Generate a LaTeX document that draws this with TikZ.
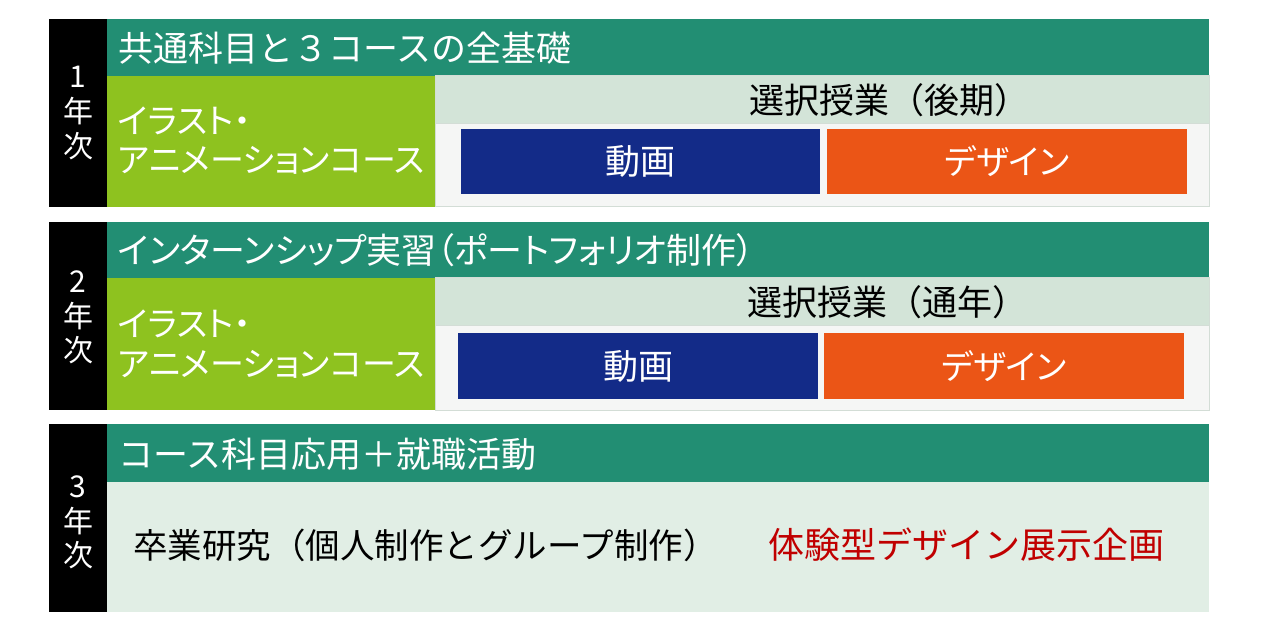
\documentclass[tikz,border=0pt]{standalone}
\usepackage{fontspec}
\setmainfont{Noto Sans CJK JP}
\newfontfamily\pfont{Noto Sans CJK JP}[RawFeature=+palt]
\definecolor{hdr}{HTML}{228E73}
\definecolor{lime}{HTML}{8EC21F}
\definecolor{selbg}{HTML}{D3E4D8}
\definecolor{panel}{HTML}{F5F6F5}
\definecolor{navy}{HTML}{132B88}
\definecolor{orng}{HTML}{EB5516}
\definecolor{body3}{HTML}{E1EEE5}
\definecolor{redtxt}{HTML}{C00000}
\definecolor{edge}{HTML}{D3DDD6}
\newcommand{\mkcell}[6]{\node[cell, fill=#6, minimum width=#4pt, minimum height=#5pt] (#1) at (#2,#3) {};}
\begin{document}
\begin{tikzpicture}[x=1pt,y=-1pt,
  cell/.style={draw=none, inner sep=0pt, outer sep=0pt, anchor=north west},
  txt/.style={inner sep=0pt, font=\fontsize{35}{40}\selectfont},
  wtxt/.style={txt, text=white},
  ktxt/.style={inner sep=0pt, text=white, font=\pfont\fontsize{34}{40}\selectfont},
  ytxt/.style={inner sep=0pt, text=white, font=\fontsize{30}{36}\selectfont},
  frame/.style={draw=edge, line width=1pt}]
\useasboundingbox (0,0) rectangle (1264,636);
% ---------- Row 1 ----------
\mkcell{b1}{49}{19}{58}{188}{black}
\mkcell{h1}{107}{19}{1102}{57}{hdr}
\mkcell{l1}{107}{76}{328}{131}{lime}
\mkcell{s1}{435}{76}{774}{48}{selbg}
\mkcell{p1}{435}{124}{774}{83}{panel}
\draw[frame] (s1.north west) rectangle (p1.south east);
\draw[frame] (p1.north west) -- (p1.north east);
\mkcell{v1}{461}{129}{359}{65}{navy}
\mkcell{d1}{827}{129}{360}{65}{orng}
\node[ytxt] (y1a) at (78,77) {1};
\node[ytxt] (y1b) at (78,111) {年};
\node[ytxt] (y1c) at (78,146) {次};
\node[wtxt, anchor=west] (t1) at (118,48) {共通科目と３コースの全基礎};
\node[ktxt, anchor=west] (c1a) at (118,121) {イラスト・};
\node[ktxt, anchor=west] (c1b) at (118,160) {アニメーションコース};
\node[txt] (e1) at (889,100) {選択授業（後期）};
\node[wtxt] (m1) at (v1.center) {動画};
\node[ktxt] (g1) at (d1.center) {デザイン};
% ---------- Row 2 ----------
\mkcell{b2}{49}{222}{58}{188}{black}
\mkcell{h2}{107}{222}{1102}{56}{hdr}
\mkcell{l2}{107}{278}{328}{132}{lime}
\mkcell{s2}{435}{278}{774}{48}{selbg}
\mkcell{p2}{435}{326}{774}{84}{panel}
\draw[frame] (s2.north west) rectangle (p2.south east);
\draw[frame] (p2.north west) -- (p2.north east);
\mkcell{v2}{458}{333}{360}{66}{navy}
\mkcell{d2}{824}{333}{360}{66}{orng}
\node[ytxt] (y2a) at (78,282) {2};
\node[ytxt] (y2b) at (78,316) {年};
\node[ytxt] (y2c) at (78,350) {次};
\node[ktxt, anchor=west, font=\pfont\fontsize{35}{40}\selectfont] (t2) at (118,250) {インターンシップ実習（ポートフォリオ制作）};
\node[ktxt, anchor=west] (c2a) at (118,324) {イラスト・};
\node[ktxt, anchor=west] (c2b) at (118,364) {アニメーションコース};
\node[txt] (e2) at (887,302) {選択授業（通年）};
\node[wtxt] (m2) at (v2.center) {動画};
\node[ktxt] (g2) at (d2.center) {デザイン};
% ---------- Row 3 ----------
\mkcell{b3}{49}{424}{58}{188}{black}
\mkcell{h3}{107}{424}{1102}{58}{hdr}
\mkcell{q3}{107}{482}{1102}{130}{body3}
\node[ytxt] (y3a) at (78,487) {3};
\node[ytxt] (y3b) at (78,521) {年};
\node[ytxt] (y3c) at (78,555) {次};
\node[wtxt, anchor=west] (t3) at (118,454) {コース科目応用＋就職活動};
\node[txt, anchor=west, font=\fontsize{34.5}{40}\selectfont] (r3) at (133,545) {卒業研究（個人制作とグループ制作）};
\node[txt, anchor=west, text=redtxt, font=\fontsize{36}{40}\selectfont] (x3) at (768,545) {体験型デザイン展示企画};
\end{tikzpicture}
\end{document}
